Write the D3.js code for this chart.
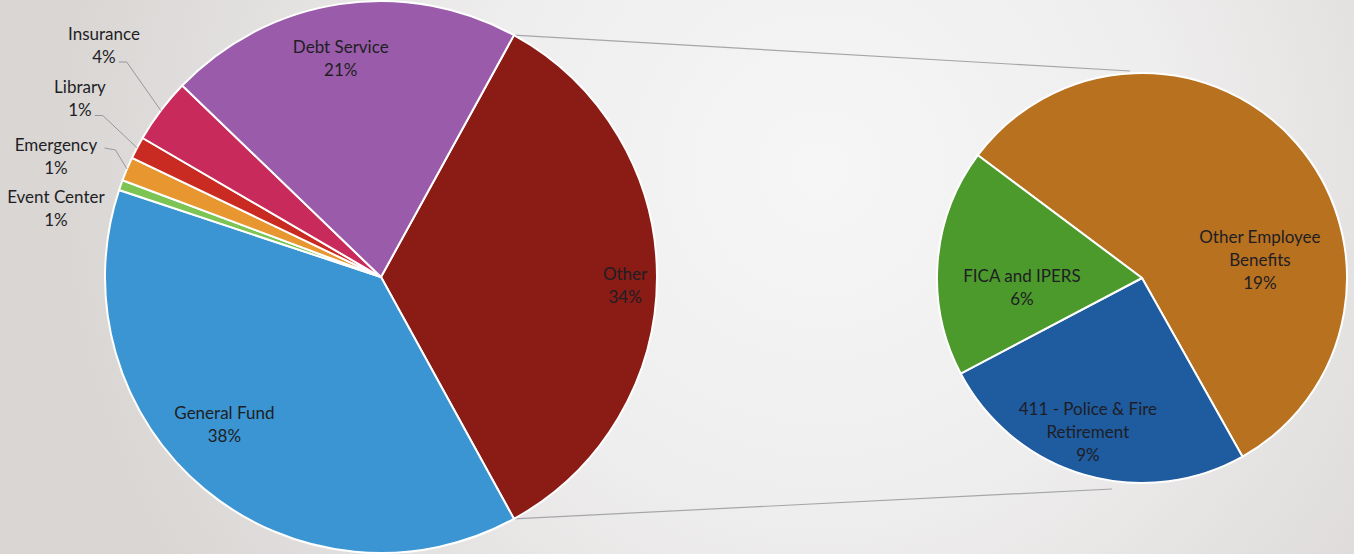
<!DOCTYPE html>
<html>
<head>
<meta charset="utf-8">
<script src="https://cdn.jsdelivr.net/npm/d3@7"></script>
<style>
  body { margin: 0; overflow: hidden; background: #e6e4e2; }
  text { font-family: Lato, "Open Sans", sans-serif; font-size: 17px; fill: #1e1e24; }
</style>
</head>
<body>
<svg id="chart" width="1354" height="554"></svg>
<script>
// main pie, clockwise, starting with the slice that is broken out
var mainNames = ["Other", "General Fund", "Event Center", "Emergency", "Library", "Insurance", "Debt Service"];
var mainValues = [34.0, 38.1, 0.6, 1.4, 1.3, 3.8, 20.8];
var mainColors = ["#8a1b15", "#3b95d3", "#7cc453", "#e8962f", "#c92a22", "#c82a5c", "#9a5caa"];

// breakdown of "Other", clockwise
var subNames = ["Other Employee Benefits", "411 - Police & Fire Retirement", "FICA and IPERS"];
var subLines = [["Other Employee", "Benefits"], ["411 - Police & Fire", "Retirement"], ["FICA and IPERS"]];
var subValues = [19.25, 8.65, 6.1];
var subColors = ["#b8711f", "#1f5b9f", "#4c9a2b"];

// label placement: offset from slice mid angle (deg), radius factor, leader style
var mainLabelPos = {
    "Other":        {da: 2.1,  k: 0.885},
    "General Fund": {da: 6.9,  k: 0.78},
    "Debt Service": {da: -1.8, k: 0.805},
    "Insurance":    {da: 2.8,  k: 1.308, leader: "bottom"},
    "Library":      {da: 2.7,  k: 1.267, leader: "bottom"},
    "Emergency":    {da: -2.7, k: 1.256, leader: "side"},
    "Event Center": {da: -7.5, k: 1.204}
};
var subLabelPos = {
    "Other Employee Benefits":        {da: 32.6, k: 0.582},
    "411 - Police & Fire Retirement": {da: 3.0,  k: 0.794},
    "FICA and IPERS":                 {da: -8.8, k: 0.587}
};

var W = 1354, H = 554;
var LINE_H = 23;
var rad = Math.PI / 180;

var svg = d3.select("#chart");

// photographed slide background
var defs = svg.append("defs");
var bg = defs.append("radialGradient")
    .attr("id", "bg")
    .attr("gradientUnits", "userSpaceOnUse")
    .attr("cx", 820).attr("cy", 170).attr("r", 760);
bg.append("stop").attr("offset", "0").attr("stop-color", "#f6f6f6");
bg.append("stop").attr("offset", "0.45").attr("stop-color", "#efeeee");
bg.append("stop").attr("offset", "1").attr("stop-color", "#d9d6d4");
svg.append("rect").attr("width", W).attr("height", H).attr("fill", "url(#bg)");

var main = {cx: 381, cy: 277, r: 276};
var sub = {cx: 1142, cy: 278, r: 205};

var total = d3.sum(mainValues);
// Excel centres the broken-out slice at 3 o'clock
var mainStart = Math.PI / 2 - Math.PI * mainValues[0] / total;
var mainArcs = d3.pie().sort(null)
    .startAngle(mainStart).endAngle(mainStart + 2 * Math.PI)(mainValues);

var subStart = -53.2 * rad;
var subArcs = d3.pie().sort(null)
    .startAngle(subStart).endAngle(subStart + 2 * Math.PI)(subValues);

function polar(c, a, r) {
    return [c.cx + r * Math.sin(a), c.cy - r * Math.cos(a)];
}

// connector lines between the two pies
var topA = polar(main, mainArcs[0].startAngle, main.r);
var botA = polar(main, mainArcs[0].endAngle, main.r);
svg.append("g")
    .attr("stroke", "#a4a6aa")
    .attr("stroke-width", 1.2)
    .selectAll("line")
    .data([[topA, [sub.cx - 12, sub.cy - sub.r - 2]], [botA, [sub.cx - 30, sub.cy + sub.r + 6]]])
    .enter().append("line")
    .attr("x1", function(d) { return d[0][0]; })
    .attr("y1", function(d) { return d[0][1]; })
    .attr("x2", function(d) { return d[1][0]; })
    .attr("y2", function(d) { return d[1][1]; });

function drawPie(c, arcs, colors) {
    var arc = d3.arc().innerRadius(0).outerRadius(c.r);
    var g = svg.append("g").attr("transform", "translate(" + c.cx + "," + c.cy + ")");
    g.selectAll("path")
        .data(arcs)
        .enter().append("path")
        .attr("d", arc)
        .attr("fill", function(d, i) { return colors[i]; })
        .attr("stroke", "#ffffff")
        .attr("stroke-width", 2)
        .attr("stroke-linejoin", "round");
}

drawPie(main, mainArcs, mainColors);
drawPie(sub, subArcs, subColors);

function pct(v, tot) {
    return Math.round(v / tot * 100) + "%";
}

// draw a centred multi-line label block, returns text selection
function drawLabel(center, lines) {
    var n = lines.length;
    var t = svg.append("text").attr("text-anchor", "middle");
    lines.forEach(function(line, i) {
        t.append("tspan")
            .attr("x", center[0])
            .attr("y", center[1] + (i - (n - 1) / 2) * LINE_H + 6)
            .text(line);
    });
    return t;
}

var leaderG = svg.append("g")
    .attr("fill", "none")
    .attr("stroke", "#8e8e96")
    .attr("stroke-width", 0.9);

mainArcs.forEach(function(d, i) {
    var name = mainNames[i];
    var p = mainLabelPos[name];
    var mid = (d.startAngle + d.endAngle) / 2;
    var center = polar(main, mid + p.da * rad, main.r * p.k);
    var lines = [name, pct(mainValues[i], total)];
    var t = drawLabel(center, lines);
    if (p.leader) {
        var tspans = t.selectAll("tspan").nodes();
        var edge = polar(main, mid, main.r);
        var start, bend;
        if (p.leader === "bottom") {
            var b = tspans[tspans.length - 1].getBBox();
            start = [b.x + b.width + 3, center[1] + LINE_H / 2 + 5];
            bend = [start[0] + 8, start[1]];
        } else {
            var b0 = tspans[0].getBBox();
            start = [b0.x + b0.width + 7, center[1] - LINE_H / 2 + 3];
            bend = [start[0] + 11, start[1] + 2];
        }
        leaderG.append("polyline")
            .attr("points", [start, bend, edge].map(function(q) { return q.join(","); }).join(" "));
    }
});

subArcs.forEach(function(d, i) {
    var p = subLabelPos[subNames[i]];
    var mid = (d.startAngle + d.endAngle) / 2;
    var center = polar(sub, mid + p.da * rad, sub.r * p.k);
    drawLabel(center, subLines[i].concat([pct(subValues[i], total)]));
});
</script>
</body>
</html>
